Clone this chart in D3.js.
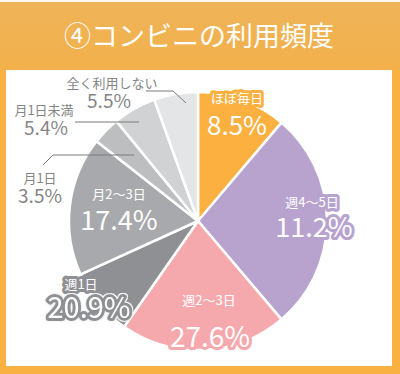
<!DOCTYPE html>
<html>
<head>
<meta charset="utf-8">
<script src="https://cdn.jsdelivr.net/npm/d3@7"></script>
<style>
  body { margin: 0; background: #fff; }
  svg { display: block; }
  text { font-family: "Noto Sans CJK JP", "Noto Sans", sans-serif; }
</style>
</head>
<body>
<svg width="400" height="374"></svg>
<script>
const title = "④コンビニの利用頻度";
const categories = ["ほぼ毎日", "週4〜5日", "週2〜3日", "週1日", "月2〜3日", "月1日", "月1日未満", "全く利用しない"];
// percentages printed on the chart
const printed = [8.5, 11.2, 27.6, 20.9, 17.4, 3.5, 5.4, 5.5];
// slice sizes as they are drawn in the picture (the artwork doesn't follow its own labels)
const drawn = [11.2, 27.6, 20.9, 8.5, 17.4, 3.5, 5.4, 5.5];
const colors = ["#fbb040", "#b8a3cf", "#f6a9ad", "#8f9094", "#a8a9ac", "#bdbec0", "#d1d2d4", "#e4e5e6"];

const svg = d3.select("svg");
const W = 400, H = 374;
const cx = 198, cy = 221, R = 129;

const defs = svg.append("defs");
const grad = defs.append("linearGradient").attr("id", "band")
  .attr("x1", 0).attr("y1", 0).attr("x2", 0).attr("y2", 1);
grad.append("stop").attr("offset", 0).attr("stop-color", "#eeb459");
grad.append("stop").attr("offset", 1).attr("stop-color", "#f3b04a");

// thin light rim around the outlined 20.9% figure
const rim = defs.append("filter").attr("id", "rim")
  .attr("x", "-10%").attr("y", "-20%").attr("width", "120%").attr("height", "140%");
rim.append("feMorphology").attr("in", "SourceAlpha").attr("operator", "dilate").attr("radius", 1.2).attr("result", "grow");
rim.append("feFlood").attr("flood-color", "#f4f4f4");
rim.append("feComposite").attr("in2", "grow").attr("operator", "in").attr("result", "edge");
const merge = rim.append("feMerge");
merge.append("feMergeNode").attr("in", "edge");
merge.append("feMergeNode").attr("in", "SourceGraphic");

// frame + title band
svg.append("rect").attr("width", W).attr("height", H).attr("fill", "#f9b142");
svg.append("rect").attr("width", W).attr("height", 70).attr("fill", "url(#band)");
svg.append("rect").attr("width", W).attr("height", 2).attr("fill", "#fbf7f0");
svg.append("rect").attr("x", 6).attr("y", 70).attr("width", 386).attr("height", 296).attr("fill", "#fff");

svg.append("text")
  .attr("x", 199).attr("y", 46)
  .attr("text-anchor", "middle")
  .attr("fill", "#fff")
  .style("font-size", "27px")
  .text(title);

// pie
const pie = d3.pie().sort(null).value(d => d.v);
const arc = d3.arc().innerRadius(0).outerRadius(R);
const rows = categories.map((c, i) => ({ c, v: drawn[i], p: printed[i], col: colors[i] }));

const g = svg.append("g").attr("transform", `translate(${cx},${cy})`);
g.selectAll("path")
  .data(pie(rows))
  .join("path")
  .attr("d", arc)
  .attr("fill", d => d.data.col)
  .attr("stroke", "#fff")
  .attr("stroke-width", 2.5)
  .attr("stroke-linejoin", "round");

// leader lines for the small slices
const leaders = [
  [[43, 165], [53, 155], [134, 155]],
  [[75, 122], [139, 122]],
  [[146, 91], [173, 91], [186, 103]]
];
svg.selectAll("path.leader")
  .data(leaders)
  .join("path")
  .attr("class", "leader")
  .attr("d", d3.line())
  .attr("fill", "none")
  .attr("stroke", "#7a7a7a")
  .attr("stroke-width", 1);

// label layout: name position, value position, value size, halo colours
const layout = [
  { n: [237, 103], v: [237, 135], vs: 26, halo: "#fbb040", vhalo: null, out: false },
  { n: [312, 207], v: [314, 237], vs: 27, halo: "#b8a3cf", vhalo: "#b8a3cf", out: false },
  { n: [209, 305], v: [210, 347], vs: 28, halo: "#f6a9ad", vhalo: "#f6a9ad", out: false },
  { n: [81, 289], v: [89, 318], vs: 29, halo: "#8f9094", vhalo: "#8f9094", out: false, rim: true },
  { n: [119, 199], v: [119, 230], vs: 27, halo: null, vhalo: null, out: false },
  { n: [40, 183], v: [40, 203], vs: 19, halo: null, vhalo: null, out: true },
  { n: [44, 115], v: [46, 135], vs: 19, halo: null, vhalo: null, out: true },
  { n: [112, 88], v: [109, 108], vs: 19, halo: null, vhalo: null, out: true }
];

const labels = svg.append("g");
rows.forEach((r, i) => {
  const L = layout[i];
  const fill = L.out ? "#858585" : "#fff";

  const name = labels.append("text")
    .attr("x", L.n[0]).attr("y", L.n[1])
    .attr("text-anchor", "middle")
    .style("font-size", "13px")
    .attr("fill", fill)
    .text(r.c);
  if (L.halo) {
    name.attr("stroke", L.halo).attr("stroke-width", 6)
      .attr("stroke-linejoin", "round").style("paint-order", "stroke");
  }

  const val = labels.append("text")
    .attr("x", L.v[0]).attr("y", L.v[1])
    .attr("text-anchor", "middle")
    .style("font-size", L.vs + "px")
    .attr("fill", fill)
    .text(d3.format(".1f")(r.p) + "%");
  if (L.vhalo) {
    val.attr("stroke", L.vhalo).attr("stroke-width", 6)
      .attr("stroke-linejoin", "round").style("paint-order", "stroke");
  }
  if (L.rim) val.attr("filter", "url(#rim)");
});
</script>
</body>
</html>
